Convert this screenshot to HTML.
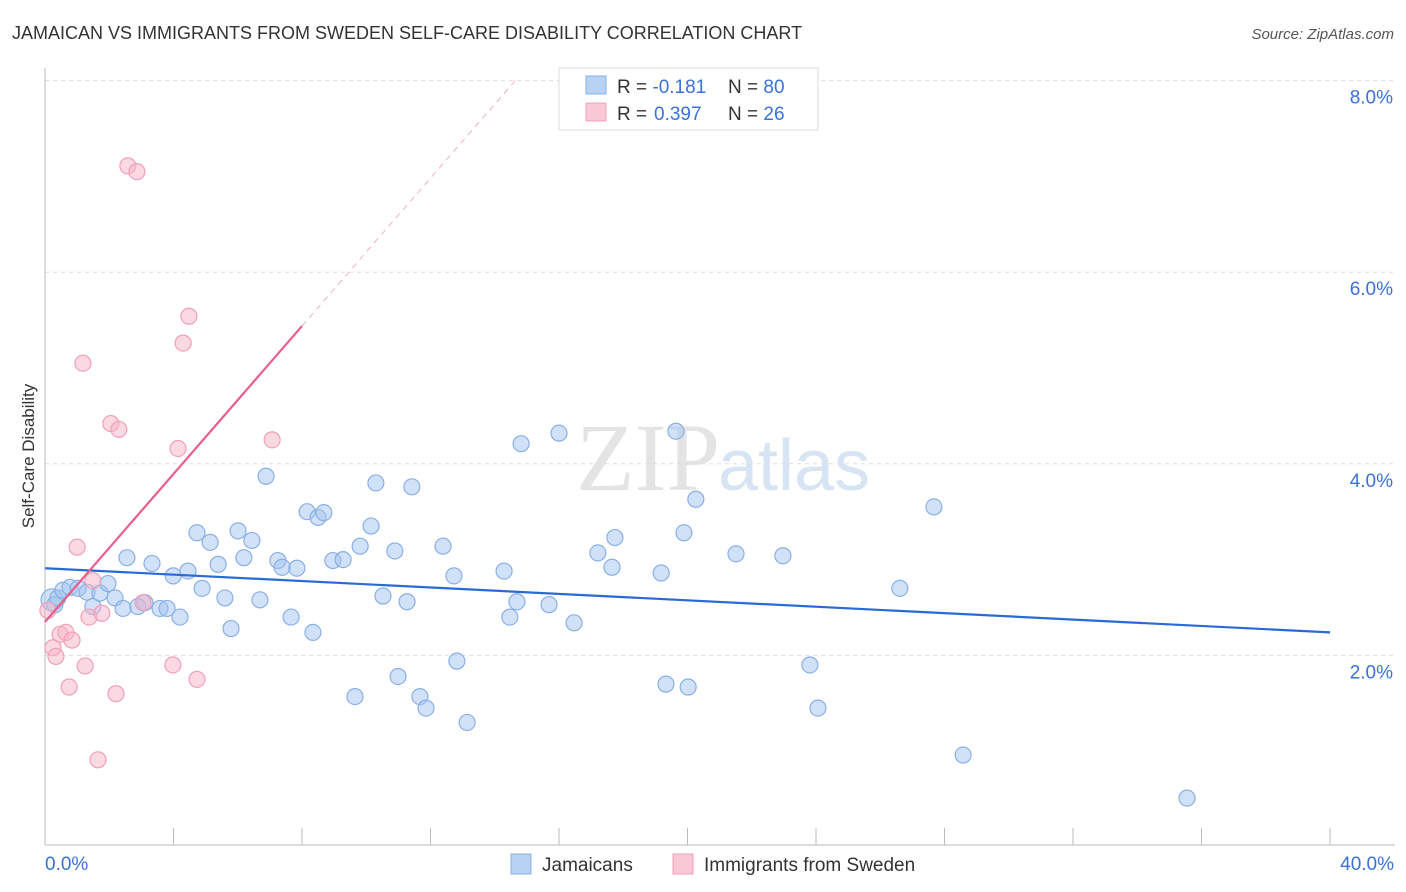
<!DOCTYPE html>
<html><head><meta charset="utf-8"><style>
body{margin:0;background:#fff;font-family:"Liberation Sans",sans-serif;}
svg{display:block}
</style></head><body>
<svg id="chart" width="1406" height="892">
<text x="12" y="39" font-size="18" fill="#333">JAMAICAN VS IMMIGRANTS FROM SWEDEN SELF-CARE DISABILITY CORRELATION CHART</text>
<text x="1394" y="39" font-size="15" fill="#555" font-style="italic" text-anchor="end">Source: ZipAtlas.com</text>
<text x="720" y="490" font-size="96" fill="#e4e4e4" font-family="Liberation Serif,serif" text-anchor="end">ZIP</text>
<text x="718" y="490" font-size="72" fill="#d6e4f4">atlas</text>
<text transform="translate(34,456) rotate(-90)" font-size="17" fill="#333" text-anchor="middle">Self-Care Disability</text>
<g id="grid"></g><g id="marks"></g>
<g>
<rect x="559" y="68" width="259" height="62" fill="#fff" stroke="#ddd"/>
<rect x="586" y="76" width="20" height="18" fill="#b8d2f4" stroke="#8ab0e6"/>
<rect x="586" y="103" width="20" height="18" fill="#f9c8d6" stroke="#f0a0b8"/>
<text x="617" y="93" font-size="19" fill="#333">R = <tspan fill="#3a72d8">-0.181</tspan><tspan x="728">N = </tspan><tspan fill="#3a72d8">80</tspan></text>
<text x="617" y="120" font-size="19" fill="#333">R = <tspan x="654" fill="#3a72d8">0.397</tspan><tspan x="728">N = </tspan><tspan fill="#3a72d8">26</tspan></text>
</g>
<g>
<rect x="511" y="854" width="20" height="20" fill="#b8d2f4" stroke="#8ab0e6"/>
<text x="542" y="871" font-size="19" fill="#333">Jamaicans</text>
<rect x="673" y="854" width="20" height="20" fill="#f9c8d6" stroke="#f0a0b8"/>
<text x="704" y="871" font-size="19" fill="#333">Immigrants from Sweden</text>
</g>
</svg>
<script>
const blueX=[0.22,0.31,0.40,0.56,0.78,1.03,1.31,1.49,1.71,1.96,2.18,2.43,2.55,2.89,3.11,3.33,3.58,3.80,3.99,4.20,4.45,4.73,4.89,5.14,5.39,5.60,5.79,6.01,6.19,6.44,6.69,6.88,7.25,7.38,7.66,7.84,8.16,8.34,8.50,8.68,8.96,9.28,9.65,9.81,10.15,10.30,10.52,10.89,10.99,11.27,11.42,11.67,11.86,12.39,12.73,12.82,13.14,14.29,14.47,14.69,14.82,15.69,16.00,16.47,17.21,17.65,17.74,19.18,19.33,19.64,19.89,20.02,20.26,21.51,22.97,23.81,24.06,26.61,27.67,28.58,35.55];
const blueY=[2.58,2.53,2.60,2.68,2.71,2.70,2.66,2.51,2.65,2.75,2.60,2.49,3.02,2.51,2.55,2.96,2.49,2.49,2.83,2.40,2.88,3.28,2.70,3.18,2.95,2.60,2.28,3.30,3.02,3.20,2.58,3.87,2.99,2.92,2.40,2.91,3.50,2.24,3.44,3.49,2.99,3.00,1.57,3.14,3.35,3.80,2.62,3.09,1.78,2.56,3.76,1.57,1.45,3.14,2.83,1.94,1.30,2.88,2.40,2.56,4.21,2.53,4.32,2.34,3.07,2.92,3.23,2.86,1.70,4.34,3.28,1.67,3.63,3.06,3.04,1.90,1.45,2.70,3.55,0.96,0.51];
const pinkX=[0.09,0.25,0.34,0.47,0.65,0.75,0.84,1.00,1.25,1.37,1.49,1.65,1.77,1.18,2.05,2.30,2.21,2.58,2.86,3.05,3.98,4.14,4.30,4.48,4.73,7.07];
const pinkY=[2.47,2.08,1.99,2.22,2.24,1.67,2.16,3.13,1.89,2.40,2.78,0.91,2.44,5.05,4.42,4.36,1.60,7.11,7.05,2.55,1.90,4.16,5.26,5.54,1.75,4.25];
const yTicks=[2,4,6,8];
const xTickLabels=["0.0%","40.0%"];
const blueTrend=[2.91,2.24];
const pinkTrend=[2.35,0.386];
const NS="http://www.w3.org/2000/svg";
const sx=v=>45+v*32.125, sy=v=>847-v*95.8;
function mk(t,a,p){const e=document.createElementNS(NS,t);for(const k in a)e.setAttribute(k,a[k]);p.appendChild(e);return e;}
const g=document.getElementById('grid'), m=document.getElementById('marks');
yTicks.forEach(t=>{
 const l=mk('line',{x1:45,x2:1395,y1:sy(t),y2:sy(t),stroke:'#ddd','stroke-dasharray':'4,4'},g);
 
 
 const tx=mk('text',{x:1393,y:sy(t)+23,'font-size':19,fill:'#3a72d8','text-anchor':'end'},g);
 tx.textContent=t.toFixed(1)+'%';
 
 
});
const ax=mk('line',{x1:45,x2:1395,y1:845,y2:845,stroke:'#bbb'},g);


const ay=mk('line',{x1:45,x2:45,y1:68,y2:845,stroke:'#bbb'},g);


for(let i=4;i<=40;i+=4){const t=mk('line',{x1:sx(i),x2:sx(i),y1:828,y2:845,stroke:'#bbb'},g);
 
 }
[[0,'start',45],[40,'end',1394]].forEach((d,i)=>{const t=mk('text',{x:d[2],y:870,'font-size':19,fill:'#3a72d8','text-anchor':d[1]},g);t.textContent=xTickLabels[i];
 
 });
blueX.forEach((x,i)=>{const c=mk('circle',{cx:sx(x),cy:sy(blueY[i]),r:(i===0?11:8),fill:'rgba(164,196,240,0.5)',stroke:'#8ab0e6','stroke-width':1.2},m);
 
 });
pinkX.forEach((x,i)=>{const c=mk('circle',{cx:sx(x),cy:sy(pinkY[i]),r:8,fill:'rgba(248,180,200,0.5)',stroke:'#f0a0b8','stroke-width':1.2},m);
 
 });
const bl=mk('line',{x1:sx(0),y1:sy(blueTrend[0]),x2:sx(40),y2:sy(blueTrend[1]),stroke:'#2a6ad8','stroke-width':2.2},m);


const pf=x=>pinkTrend[0]+pinkTrend[1]*x;
const pl=mk('line',{x1:sx(0),y1:sy(pf(0)),x2:sx(8),y2:sy(pf(8)),stroke:'#e8608a','stroke-width':2.2},m);


const xe=(8-pinkTrend[0])/pinkTrend[1];
const pd=mk('line',{x1:sx(8),y1:sy(pf(8)),x2:sx(xe),y2:sy(8),stroke:'#f0b0c4','stroke-width':1,'stroke-dasharray':'6,5'},m);


</script>
</body></html>
